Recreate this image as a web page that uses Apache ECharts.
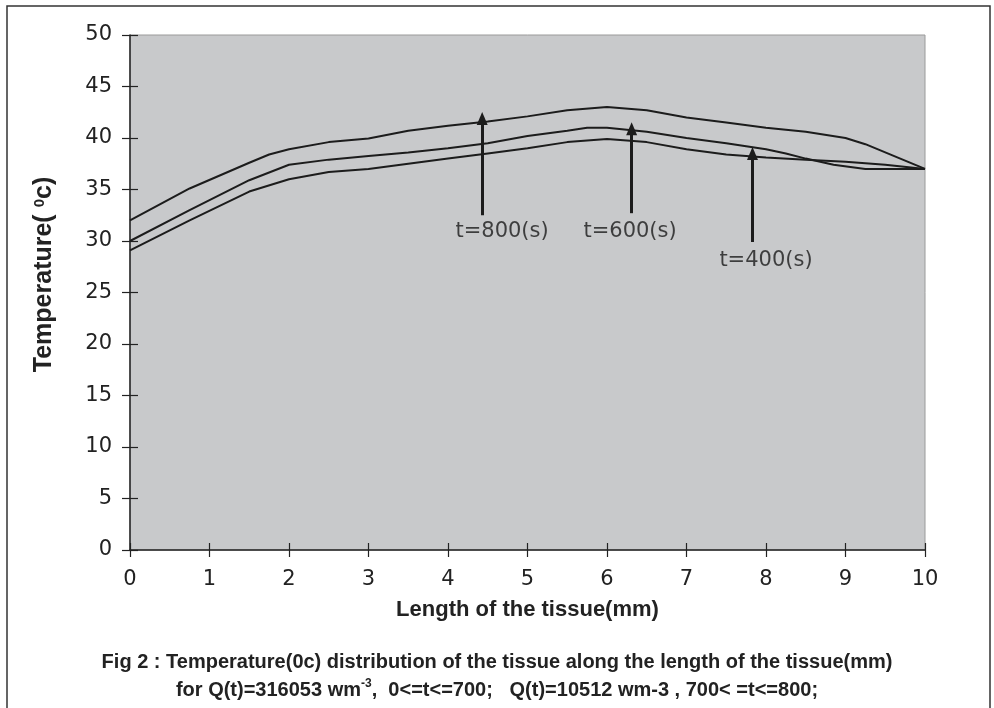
<!DOCTYPE html>
<html>
<head>
<meta charset="utf-8">
<script src="https://cdn.jsdelivr.net/npm/echarts@6/dist/echarts.min.js"></script>
<style>html,body{margin:0;padding:0;background:#fff;}#c{width:994px;height:708px;}</style>
</head>
<body>
<div id="c"></div>
<script>
// Temperature profiles (x in mm, temperature in °C)
const t800 = [[0,32.0],[0.75,35.1],[1.5,37.6],[1.75,38.4],[2,38.9],[2.5,39.6],[3,39.95],[3.5,40.7],[4,41.2],[4.5,41.6],[5,42.1],[5.5,42.7],[6,43.0],[6.5,42.7],[7,42.0],[7.5,41.5],[8,41.0],[8.5,40.6],[9,40.0],[9.25,39.4],[10,37.0]];
const t600 = [[0,30.0],[0.75,33.0],[1.5,35.9],[2,37.4],[2.5,37.9],[3,38.25],[3.5,38.6],[4,39.0],[4.5,39.5],[5,40.2],[5.5,40.7],[5.75,41.0],[6,41.0],[6.5,40.6],[7,40.0],[7.5,39.5],[8,38.9],[8.25,38.5],[8.5,38.0],[8.85,37.4],[9.25,37.0],[10,37.0]];
const t400 = [[0,29.1],[0.75,32.0],[1.5,34.8],[2,36.0],[2.5,36.7],[3,37.0],[3.5,37.5],[4,38.0],[4.5,38.5],[5,39.0],[5.5,39.6],[6,39.9],[6.5,39.6],[7,38.9],[7.5,38.4],[8,38.1],[8.5,37.9],[9,37.7],[9.5,37.4],[10,37.0]];

// Annotation arrows: [x, yStart, yTip]
const arrows = [[4.43,32.5,41.9],[6.31,32.7,40.9],[7.83,29.9,38.5]];
// Annotation labels: [x, y, text]
const annLabels = [[4.68,30.9,'t=800(s)'],[6.29,30.9,'t=600(s)'],[8.0,28.1,'t=400(s)']];

const xMin = 0, xMax = 10, xStep = 1;
const yMin = 0, yMax = 50, yStep = 5;

const xTitle = 'Length of the tissue(mm)';
const yTitle = 'Temperature( {sup|0}c)';
const caption1 = 'Fig 2 : Temperature(0c) distribution of the tissue along the length of the tissue(mm)';
const caption2 = 'for Q(t)=316053 wm{sup|-3},  0<=t<=700;   Q(t)=10512 wm-3 , 700< =t<=800;';

const FONT = 'DejaVu Sans';
const BOLD = 'Liberation Sans';
const NARROW = "'Liberation Sans Narrow', 'Liberation Sans'";
const INK = '#1c1c1c';

const chart = echarts.init(document.getElementById('c'), null, {renderer:'canvas'});

const lineSeries = (name, data) => ({
  name, type:'line', data, showSymbol:false, symbol:'none', smooth:false,
  xAxisIndex:0, yAxisIndex:0,
  lineStyle:{color:INK, width:2}, z:3, silent:true
});

const tickStyle = {color:'#222', width:1.2};
const hiddenLine = {show:true, lineStyle:{color:'rgba(0,0,0,0)', width:0}};

const option = {
  animation:false,
  backgroundColor:'#ffffff',
  grid:{left:130, right:69, top:35, bottom:158, show:true, backgroundColor:'#c8c9cb', borderColor:'#9a9a9a', borderWidth:1},
  xAxis:[{
    type:'value', min:xMin, max:xMax, interval:xStep, position:'bottom',
    axisLine:{show:true, lineStyle:{color:'#222', width:1.5}},
    axisTick:{show:true, length:7, lineStyle:tickStyle},
    axisLabel:{fontFamily:FONT, fontSize:21, color:'#222', margin:19},
    splitLine:{show:false},
    name:xTitle, nameLocation:'middle', nameGap:49,
    nameTextStyle:{fontFamily:BOLD, fontWeight:'bold', fontSize:22, color:'#222'}
  },{
    type:'value', min:xMin, max:xMax, interval:xStep, position:'bottom',
    axisLine:hiddenLine, axisTick:{show:true, inside:true, length:7, lineStyle:tickStyle},
    axisLabel:{show:false}, splitLine:{show:false}
  }],
  yAxis:[{
    type:'value', min:yMin, max:yMax, interval:yStep, position:'left',
    axisLine:{show:true, lineStyle:{color:'#222', width:1.5}},
    axisTick:{show:true, length:8, lineStyle:tickStyle},
    axisLabel:{fontFamily:FONT, fontSize:21, color:'#222', margin:18},
    splitLine:{show:false},
    name:yTitle, nameLocation:'middle', nameGap:73, nameRotate:90,
    nameTextStyle:{fontFamily:BOLD, fontWeight:'bold', fontSize:25, color:'#222', padding:[0,0,0,36],
      rich:{sup:{fontFamily:BOLD, fontWeight:'bold', fontSize:15, color:'#222', verticalAlign:'top'}}}
  },{
    type:'value', min:yMin, max:yMax, interval:yStep, position:'left', offset:0,
    axisLine:hiddenLine, axisTick:{show:true, inside:true, length:8, lineStyle:tickStyle},
    axisLabel:{show:false}, splitLine:{show:false}
  }],
  series:[
    lineSeries('t=800', t800),
    lineSeries('t=600', t600),
    Object.assign(lineSeries('t=400', t400), {
      markLine:{
        silent:true, symbol:['none','triangle'], symbolSize:[11,13], precision:3,
        lineStyle:{color:INK, width:3, type:'solid'}, label:{show:false}, emphasis:{disabled:true},
        data: arrows.map(a => [{coord:[a[0],a[1]]},{coord:[a[0],a[2]]}])
      }
    }),
    {
      type:'scatter', symbolSize:0, silent:true, z:5,
      data: annLabels.map(l => ({value:[l[0],l[1]], name:l[2]})),
      label:{show:true, position:'inside', formatter:p => p.name, fontFamily:FONT, fontSize:21, color:'#1a1a1a'}
    },
    // carrier for the inside tick marks
    {type:'line', data:[], xAxisIndex:1, yAxisIndex:1, silent:true}
  ],
  graphic:[
    {type:'rect', shape:{x:7, y:6, width:983, height:730}, style:{fill:'none', stroke:'#333', lineWidth:1.5}, z:10, silent:true},
    {type:'text', x:497, y:662, z:10, silent:true,
      style:{text:caption1, fontFamily:NARROW, fontWeight:'bold', fontSize:20, fill:'#222', textAlign:'center', textVerticalAlign:'middle'}},
    {type:'text', x:497, y:690, z:10, silent:true,
      style:{text:caption2, fontFamily:NARROW, fontWeight:'bold', fontSize:20, fill:'#222', textAlign:'center', textVerticalAlign:'middle', lineHeight:24,
        rich:{sup:{fontFamily:NARROW, fontWeight:'bold', fontSize:12, fill:'#222', verticalAlign:'top', lineHeight:10}}}}
  ]
};
chart.setOption(option);
</script>
</body>
</html>
